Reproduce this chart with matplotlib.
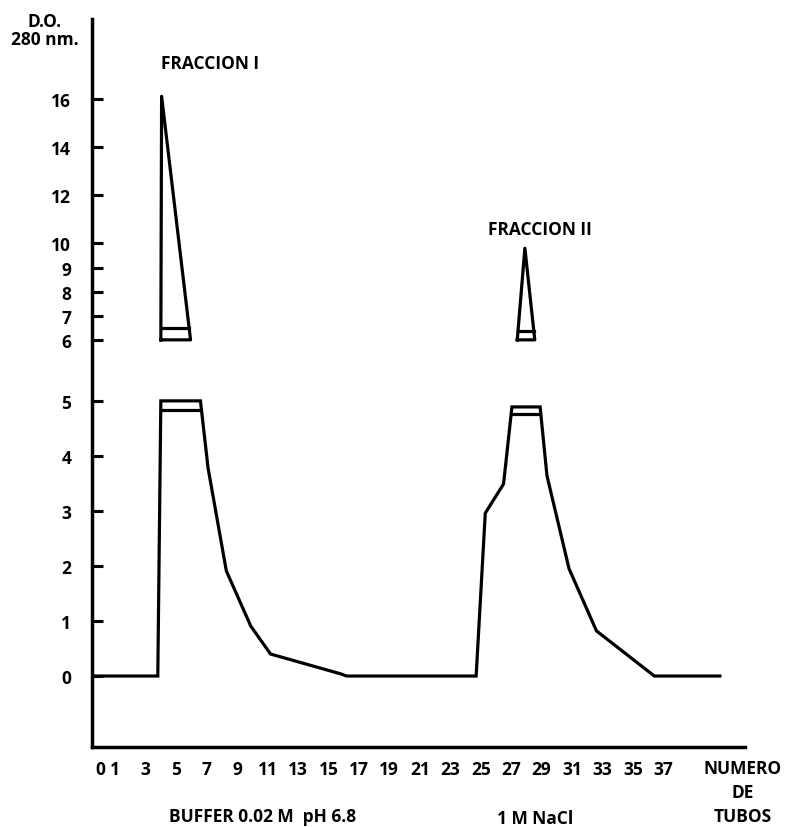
import numpy as np
import matplotlib
matplotlib.use('Agg')
import matplotlib.pyplot as plt

# tubo vs D.O. 280 nm
tubos = [-0.5, 3.8, 4.0, 6.6, 7.1, 8.3, 9.9, 11.2, 15.8, 16.2, 24.7, 25.3, 26.5,
         27.05, 28.9, 29.35, 30.8, 32.6, 36.4, 40.7]
do_280 = [0, 0, 5.0, 5.0, 3.78, 1.91, 0.91, 0.4, 0.04, 0, 0, 2.96, 3.49,
          4.89, 4.89, 3.64, 1.95, 0.82, 0, 0]

# segunda linea en la meseta cortada de cada pico
meseta_x = [[4.1, 6.5], [27.1, 28.85]]
meseta_y = [4.84, 4.76]

# parte de cada pico fuera de escala (arriba del corte)
pico1_x = [4.0, 4.05, 5.95, 4.0]
pico1_y = [6.0, 16.1, 6.0, 6.0]
pico2_x = [27.4, 27.9, 28.55, 27.4]
pico2_y = [6.0, 9.8, 6.0, 6.0]
caja_x = [[4.0, 5.86], [27.45, 28.49]]
caja_y = [6.5, 6.37]

y_ticks = [0, 1, 2, 3, 4, 5, 6, 7, 8, 9, 10, 12, 14, 16]
x_ticks = [0, 1] + list(range(3, 38, 2))

# eje y quebrado: 0-5 estirado, 6-16 comprimido
knots_v = [-20, 0, 5, 6, 16, 40]
knots_p = [-1100, 0, 275, 336, 577, 1155]


def fwd(v):
    return np.interp(v, knots_v, knots_p)


def inv(p):
    return np.interp(p, knots_p, knots_v)


plt.rcParams['font.family'] = ['Open Sans', 'DejaVu Sans']
plt.rcParams['font.size'] = 12.5
plt.rcParams['font.weight'] = 'bold'

fig = plt.figure(figsize=(7.89, 8.28), dpi=100)
ax = fig.add_axes([0.1166, 0.0966, 0.8276, 0.879])
ax.set_yscale('function', functions=(fwd, inv))

lw = 2.3
ax.plot(tubos, do_280, color='black', lw=lw, solid_joinstyle='miter')
for xs, y in zip(meseta_x, meseta_y):
    ax.plot(xs, [y, y], color='black', lw=lw)
ax.plot(pico1_x, pico1_y, color='black', lw=lw)
ax.plot(pico2_x, pico2_y, color='black', lw=lw)
for xs, y in zip(caja_x, caja_y):
    ax.plot(xs, [y, y], color='black', lw=lw)

ax.set_xlim(-0.52, 42.35)
ax.set_ylim(-1.29, 19.3)

ax.set_yticks(y_ticks)
ax.set_yticklabels([str(v) for v in y_ticks])
ax.set_xticks(x_ticks)
ax.set_xticklabels([str(v) for v in x_ticks])
ax.tick_params(axis='y', direction='in', length=8, width=2.2, pad=15,
               labelsize=12.5)
ax.tick_params(axis='x', length=0, pad=9, labelsize=12.5)

ax.spines['top'].set_visible(False)
ax.spines['right'].set_visible(False)
ax.spines['left'].set_linewidth(2.5)
ax.spines['bottom'].set_linewidth(2.5)

ax.text(7.2, 17.5, 'FRACCION I', ha='center', va='center')
ax.text(28.9, 10.6, 'FRACCION II', ha='center', va='center')

fig.text(45 / 789, 1 - 31 / 828, 'D.O.\n280 nm.', ha='center', va='center',
         linespacing=1.0)
fig.text(743 / 789, 1 - 793 / 828, 'NUMERO\nDE\nTUBOS', ha='center',
         va='center', linespacing=1.45)
fig.text(263 / 789, 1 - 817 / 828, 'BUFFER 0.02 M  pH 6.8', ha='center',
         va='center')
fig.text(535 / 789, 1 - 819 / 828, '1 M NaCl', ha='center', va='center')

fig.savefig('out.png', dpi=100)
